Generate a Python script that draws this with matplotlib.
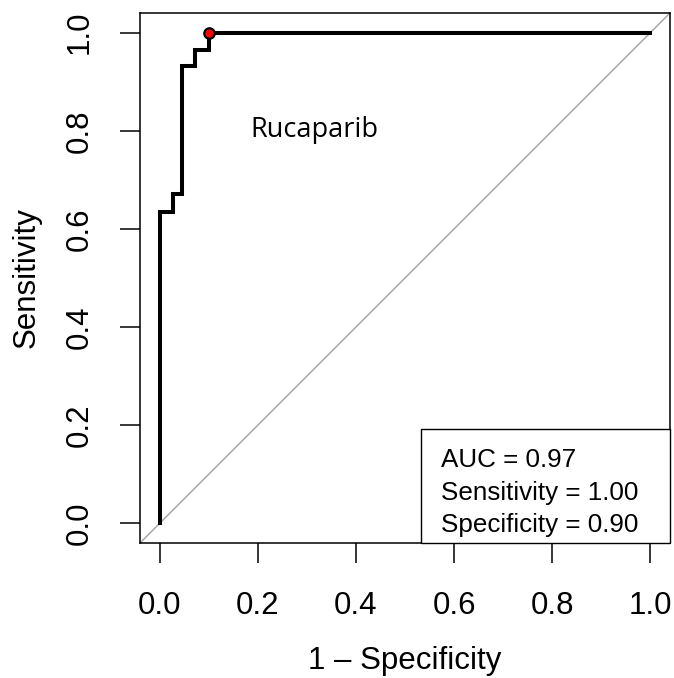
import numpy as np
import matplotlib
matplotlib.use('Agg')
import matplotlib.pyplot as plt
from matplotlib.patches import Rectangle

# -- -----------------------------
# ROC curve
fpr  = [0.0, 0.027, 0.045, 0.073, 0.100, 1.0]
sens = [0.0, 0.635, 0.671, 0.931, 0.965, 1.0]

best_fpr  = 0.10
best_sens = 1.00

ticks = [0.0, 0.2, 0.4, 0.6, 0.8, 1.0]
tick_labels = ['0.0', '0.2', '0.4', '0.6', '0.8', '1.0']

drug = 'Rucaparib'
stats_lines = ['AUC = 0.97', 'Sensitivity = 1.00', 'Specificity = 0.90']
# -- -----------------------------

plt.rcParams['font.family'] = ['Liberation Sans', 'DejaVu Sans']

fig = plt.figure(figsize=(6.74, 6.78), dpi=100)
ax = fig.add_axes([140 / 674, 1 - 543 / 678, 530 / 674, 530 / 678])

ax.set_xlim(-0.04, 1.04)
ax.set_ylim(-0.04, 1.04)

# grey diagonal across the whole box
ax.axline((0, 0), (1, 1), color='#aaaaaa', lw=1.1, zorder=1)

# ROC step curve
ax.step(fpr, sens, where='pre', color='black', lw=2.9,
        solid_joinstyle='miter', zorder=2)

ax.plot([best_fpr], [best_sens], marker='o', markersize=7.5,
        markerfacecolor='red', markeredgecolor='black',
        markeredgewidth=1.6, linestyle='none', zorder=4)

ax.text(0.185, 0.787, drug, fontsize=19.5, family=['Open Sans', 'DejaVu Sans'],
        ha='left', va='baseline')

# stats box in the bottom right corner
box = Rectangle((0.533, -0.04), 1.04 - 0.533, 0.192 + 0.04,
                facecolor='white', edgecolor='black', lw=1.0,
                zorder=5, clip_on=False)
ax.add_patch(box)

for v_txt, v_y in zip(stats_lines, [0.115, 0.048, -0.018]):
    ax.text(0.573, v_y, v_txt, fontsize=18.7, ha='left', va='baseline',
            zorder=6)

# -- -----------------------------
ax.set_xticks(ticks)
ax.set_xticklabels(tick_labels)
ax.set_yticks(ticks)
ax.set_yticklabels(tick_labels, rotation=90, va='center')

ax.tick_params(axis='both', length=14.4, width=1.1, labelsize=22.5,
               color='black')
ax.tick_params(axis='x', pad=20.5)
ax.tick_params(axis='y', pad=18)

for sp in ax.spines.values():
    sp.set_linewidth(1.1)

ax.set_xlabel('1 \u2013 Specificity', fontsize=22.5, labelpad=18)
ax.set_ylabel('Sensitivity', fontsize=22.5, labelpad=17)

fig.savefig('out.png', dpi=100)
